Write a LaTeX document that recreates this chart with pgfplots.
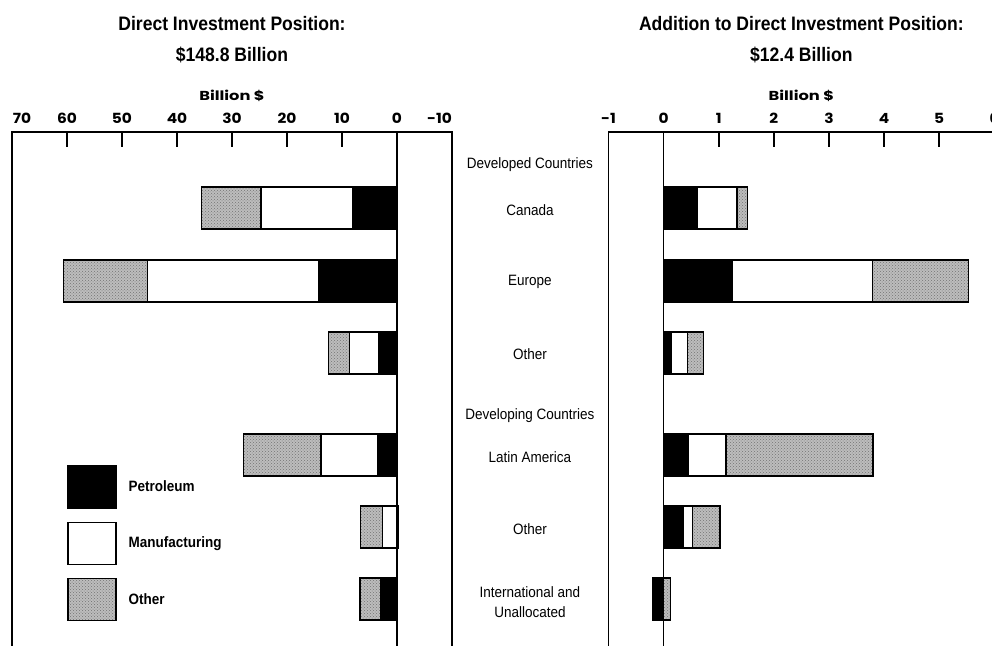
\documentclass[border=0pt]{standalone}
\usepackage{fontspec}
\setmainfont{Liberation Sans}[FakeStretch=0.9]
\newfontfamily\tickfont{Poppins}[FakeStretch=1.1]
\newfontfamily\widefont{Poppins}[FakeStretch=1.25]
\usepackage{pgfplots}
\usepackage{pgfplotstable}
\pgfplotsset{compat=1.18}
\usetikzlibrary{patterns}
\definecolor{othergray}{HTML}{BDBDBD}

% Direct investment position (billion $), y = row position
\pgfplotstableread{
y   pet   man   oth
208 8.1   16.6  10.8
281 14.3  31.1  15.2
353 3.4   5.2   3.8
455 3.5   10.3  14.1
527 0     2.6   4.0
599 2.9   0     3.8
}\leftdata
% Addition to direct investment position (billion $)
\pgfplotstableread{
y   pet   man   oth
208 0.61  0.72  0.19
281 1.24  2.55  1.74
353 0.14  0.29  0.29
455 0.44  0.69  2.67
527 0.35  0.17  0.50
599 0     0     0.12
}\rightdata

\pgfplotsset{
  geom/.style={
    scale only axis, height=518.3pt,
    ymin=131.7, ymax=650, y dir=reverse, clip=false,
  },
  leftgeom/.style={geom, at={(12pt,-131.7pt)}, anchor=north west, width=440pt,
    xmin=-10, xmax=70, x dir=reverse},
  rightgeom/.style={geom, at={(608.5pt,-131.7pt)}, anchor=north west, width=385.7pt,
    xmin=-1, xmax=6},
  panel/.style={
    xbar stacked, bar width=42pt,
    axis line style={line width=1.6pt},
    xtick pos=right, xticklabel pos=right,
    tick align=inside, major tick length=15pt,
    every tick/.style={black, line width=1.6pt},
    xticklabel style={font=\tickfont\bfseries\fontsize{14}{16}\selectfont, anchor=base, yshift=8.7pt},
    extra x ticks={0}, extra x tick labels={},
    extra x tick style={grid=major, major grid style={black, line width=1.6pt}},
    ytick style={draw=none},
  },
  petro/.style={fill=black, draw=black, line width=1.4pt},
  manu/.style={fill=white, draw=black, line width=1.4pt},
  othr/.style={fill=othergray, draw=black, line width=1.4pt,
    postaction={pattern=crosshatch dots, pattern color=black!55}},
}

\begin{document}
\begin{tikzpicture}
% ---------------- left panel ----------------
\begin{axis}[leftgeom, panel,
  xtick={-10,0,10,20,30,40,50,60,70},
  xticklabels={\makebox[0pt][r]{-10},0,10,20,30,40,50,60,\makebox[0pt][l]{\hspace{1pt}70}},
  ytick={165,210,282,354,416,457,529,602},
  yticklabels={Developed Countries,Canada,Europe,Other,Developing Countries,Latin America,Other,{International and\\Unallocated}},
  yticklabel pos=right,
  yticklabel style={anchor=center, xshift=78pt, align=center, font=\fontsize{15}{20}\selectfont},
  legend cell align=left,
  legend style={at={(axis description cs:0.125,0.357)}, anchor=north west,
    draw=none, fill=none, inner sep=0pt, row sep=13pt, column sep=11pt,
    nodes={inner sep=1pt, font=\bfseries\fontsize{15}{18}\selectfont}},
  legend image code/.code={\draw[#1] (0pt,-21pt) rectangle (48pt,21pt);},
]
\addplot[petro] table[x=pet,y=y]{\leftdata};
\addlegendentry{Petroleum}
\addplot[manu] table[x=man,y=y]{\leftdata};
\addlegendentry{Manufacturing}
\addplot[othr] table[x=oth,y=y]{\leftdata};
\addlegendentry{Other}
\node[anchor=base, yshift=101.7pt, font=\bfseries\fontsize{19.5}{22}\selectfont] at (axis description cs:0.5,1) {Direct Investment Position:};
\node[anchor=base, yshift=70.2pt, font=\bfseries\fontsize{19.5}{22}\selectfont] at (axis description cs:0.5,1) {\$148.8 Billion};
\node[anchor=base, yshift=31pt, font=\widefont\bfseries\fontsize{13}{15}\selectfont] at (axis description cs:0.5,1) {Billion \$};
\end{axis}
% negative petroleum (left panel)
\begin{axis}[leftgeom, hide axis, xbar, bar width=42pt, bar shift=0pt]
\addplot[petro] coordinates {(-0.3,527)};
\end{axis}
% ---------------- right panel ----------------
\begin{axis}[rightgeom, panel,
  xtick={-1,0,1,2,3,4,5,6},
  xticklabels={-1,0,1,2,3,4,5,6},
  ytick=\empty,
]
\addplot[petro] table[x=pet,y=y]{\rightdata};
\addplot[manu] table[x=man,y=y]{\rightdata};
\addplot[othr] table[x=oth,y=y]{\rightdata};
\node[anchor=base, yshift=101.7pt, font=\bfseries\fontsize{19.5}{22}\selectfont] at (axis description cs:0.5,1) {Addition to Direct Investment Position:};
\node[anchor=base, yshift=70.2pt, font=\bfseries\fontsize{19.5}{22}\selectfont] at (axis description cs:0.5,1) {\$12.4 Billion};
\node[anchor=base, yshift=31pt, font=\widefont\bfseries\fontsize{13}{15}\selectfont] at (axis description cs:0.5,1) {Billion \$};
\end{axis}
% negative petroleum (right panel)
\begin{axis}[rightgeom, hide axis, xbar, bar width=42pt, bar shift=0pt]
\addplot[petro] coordinates {(-0.2,599)};
\end{axis}
\pgfresetboundingbox
\path[use as bounding box] (0,0) rectangle (992pt,-645pt);
\end{tikzpicture}
\end{document}
